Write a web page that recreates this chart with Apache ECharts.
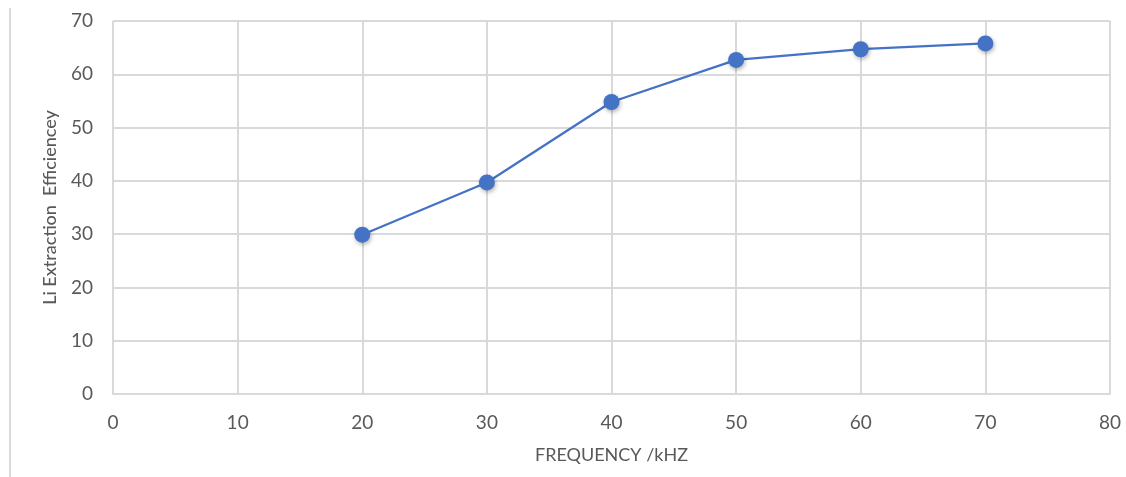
<!DOCTYPE html>
<html>
<head>
<meta charset="utf-8">
<script src="https://cdn.jsdelivr.net/npm/echarts@6/dist/echarts.min.js"></script>
<style>
html,body{margin:0;padding:0;background:#fff;}
#chart{width:1126px;height:477px;}
</style>
</head>
<body>
<div id="chart"></div>
<script>
const frequency = [20, 30, 40, 50, 60, 70];
const efficiency = [29.9, 39.7, 54.8, 62.7, 64.7, 65.8];
const xAxisTitle = 'FREQUENCY /kHZ';
const yAxisTitle = 'Li Extraction  Efficiencey';

const chart = echarts.init(document.getElementById('chart'), null, {renderer: 'canvas'});
const fontFam = 'Lato, "Open Sans", sans-serif';
chart.setOption({
  animation: false,
  backgroundColor: '#ffffff',
  grid: {left: 113, right: 16, top: 21, bottom: 83, containLabel: false},
  graphic: [{
    type: 'line',
    shape: {x1: 10, y1: 8, x2: 10, y2: 477},
    style: {stroke: '#d9d9d9', lineWidth: 2}
  }],
  xAxis: {
    type: 'value', min: 0, max: 80, interval: 10,
    name: xAxisTitle, nameLocation: 'middle', nameGap: 52,
    nameTextStyle: {color: '#595959', fontSize: 18, fontFamily: fontFam},
    axisLine: {show: true, lineStyle: {color: '#d9d9d9', width: 2}},
    axisTick: {show: false},
    axisLabel: {color: '#595959', fontSize: 19, fontFamily: fontFam, margin: 19},
    splitLine: {show: true, lineStyle: {color: '#d9d9d9', width: 2}}
  },
  yAxis: {
    type: 'value', min: 0, max: 70, interval: 10,
    name: yAxisTitle, nameLocation: 'middle', nameGap: 54, nameRotate: 90,
    nameTextStyle: {color: '#595959', fontSize: 18, fontFamily: fontFam, fontWeight: 500},
    axisLine: {show: false},
    axisTick: {show: false},
    axisLabel: {color: '#595959', fontSize: 19, fontFamily: fontFam, margin: 20},
    splitLine: {show: true, lineStyle: {color: '#d9d9d9', width: 2}}
  },
  series: [{
    type: 'line',
    data: frequency.map((f, i) => [f, efficiency[i]]),
    symbol: 'circle',
    symbolSize: 16,
    lineStyle: {color: '#4472C4', width: 2.25},
    itemStyle: {color: '#4472C4', shadowColor: 'rgba(0,0,0,0.3)', shadowBlur: 4, shadowOffsetX: 1, shadowOffsetY: 2},
    z: 3
  }]
});
</script>
</body>
</html>
